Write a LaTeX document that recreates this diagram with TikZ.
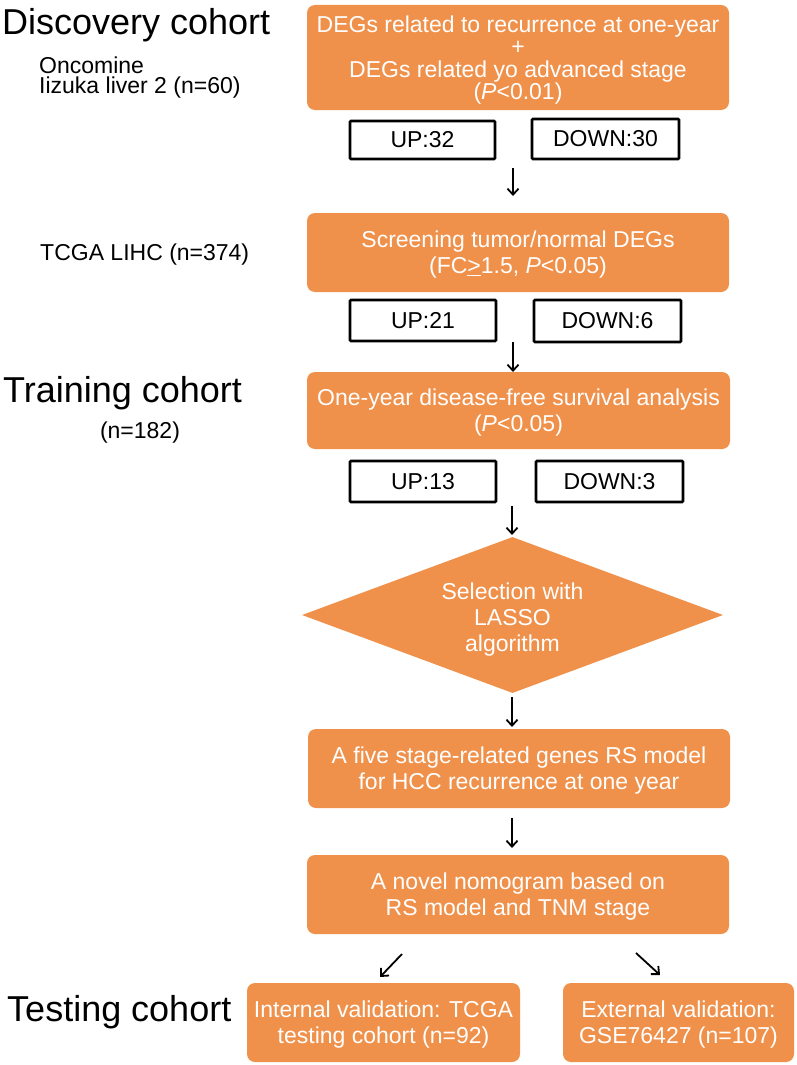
\documentclass[tikz,border=0pt]{standalone}
\usepackage{fontspec}
\setmainfont{Liberation Sans}
\usetikzlibrary{arrows.meta,shapes.geometric}
\definecolor{orng}{RGB}{240,145,75}
\begin{document}
\begin{tikzpicture}[x=1pt,y=-1pt,
  obox/.style={fill=orng, rounded corners=8pt, text=white, align=center, inner sep=0pt,
    font=\fontsize{23}{26}\selectfont, text depth=-3pt},
  cbox/.style={draw=black, line width=2.6pt, fill=white, inner sep=0pt, rounded corners=1pt,
    font=\fontsize{23}{26}\selectfont},
  head/.style={anchor=west, inner sep=0pt, font=\fontsize{36}{40}\selectfont},
  sub/.style={anchor=west, inner sep=0pt, align=left, font=\fontsize{23}{23}\selectfont},
  arr/.style={line width=1.8pt, -{Straight Barb[length=6pt,width=11pt,line width=1.8pt]}},
]
\useasboundingbox (0,0) rectangle (797,1065);

% left labels
\node[head] (hdisc) at (2,25) {Discovery cohort};
\node[sub] (onco) at (39,65) {Oncomine};
\node[sub] (iiz) at (39,88) {Iizuka liver 2 (n=60)};
\node[sub] (tcga) at (40,255) {TCGA LIHC (n=374)};
\node[head] (htrain) at (3,393) {Training cohort};
\node[anchor=center, inner sep=0pt, font=\fontsize{23}{23}\selectfont] (n182) at (140,433) {(n=182)};
\node[head] (htest) at (7,1012) {Testing cohort};

% main boxes
\node[obox, minimum width=422pt, minimum height=105pt, font=\fontsize{23}{22.5}\selectfont,
  text depth=-7pt] (b1) at (518,57.5)
  {DEGs related to recurrence at one-year\\+\\DEGs related yo advanced stage\\(\textit{P}<0.01)};
\node[cbox, minimum width=145pt, minimum height=38pt] (up1) at (422.5,140) {UP:32};
\node[cbox, minimum width=147pt, minimum height=40pt] (dn1) at (605.5,139) {DOWN:30};

\node[obox, minimum width=422pt, minimum height=79pt] (b2) at (518,252.5)
  {Screening tumor/normal DEGs\\(FC\underline{>}1.5, \textit{P}<0.05)};
\node[cbox, minimum width=146pt, minimum height=41pt] (up2) at (423,320.5) {UP:21};
\node[cbox, minimum width=147pt, minimum height=42pt] (dn2) at (607.5,321) {DOWN:6};

\node[obox, minimum width=423pt, minimum height=77pt] (b3) at (518.5,410.5)
  {One-year disease-free survival analysis\\(\textit{P}<0.05)};
\node[cbox, minimum width=146pt, minimum height=41pt] (up3) at (423,481.5) {UP:13};
\node[cbox, minimum width=147pt, minimum height=41pt] (dn3) at (609.5,481.5) {DOWN:3};

\node[diamond, fill=orng, inner sep=0pt, minimum width=421pt, minimum height=156pt] (dia) at (512.5,615) {};
\node[text=white, align=center, inner sep=0pt, font=\fontsize{23}{26}\selectfont] (diat) at (512.5,620) {Selection with\\LASSO\\algorithm};

\node[obox, minimum width=422pt, minimum height=79pt] (b4) at (519,768.5)
  {A five stage-related genes RS model\\for HCC recurrence at one year};

\node[obox, minimum width=422pt, minimum height=79pt] (b5) at (518,894.5)
  {A novel nomogram based on\\RS model and TNM stage};

\node[obox, minimum width=273pt, minimum height=79pt] (bint) at (383.5,1022.5)
  {Internal validation: TCGA\\testing cohort (n=92)};
\node[obox, minimum width=231pt, minimum height=79pt] (bext) at (678.5,1022.5)
  {External validation:\\GSE76427 (n=107)};

% arrow end points
\coordinate (a1s) at (513,168); \coordinate (a1e) at (513,196);
\coordinate (a2s) at (513,342); \coordinate (a2e) at (513,372);
\coordinate (a3s) at (512,506); \coordinate (a3e) at (512,535);
\coordinate (a4s) at (512,697); \coordinate (a4e) at (512,727);
\coordinate (a5s) at (512,818); \coordinate (a5e) at (512,848);
\coordinate (a6s) at (402,954); \coordinate (a6e) at (380,977);
\coordinate (a7s) at (636,953); \coordinate (a7e) at (660,975);

\draw[arr] (a1s) -- (a1e);
\draw[arr] (a2s) -- (a2e);
\draw[arr] (a3s) -- (a3e);
\draw[arr] (a4s) -- (a4e);
\draw[arr] (a5s) -- (a5e);
\draw[arr] (a6s) -- (a6e);
\draw[arr] (a7s) -- (a7e);
\end{tikzpicture}
\end{document}
